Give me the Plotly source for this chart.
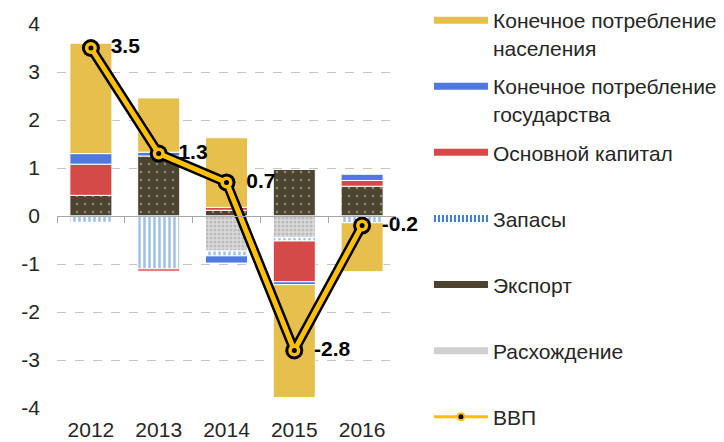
import plotly.graph_objects as go

years = ["2012", "2013", "2014", "2015", "2016"]
households = [2.30, 1.13, 1.45, -2.35, -1.02]
government = [0.22, 0.08, -0.15, -0.06, 0.13]
fixed_capital = [0.65, -0.05, 0.06, -0.85, 0.12]
inventories = [-0.13, -1.10, -0.10, -0.07, -0.14]
exports = [0.43, 1.25, 0.12, 0.97, 0.62]
discrepancy = [None, None, -0.73, -0.45, None]
gdp = [3.5, 1.3, 0.7, -2.8, -0.2]
gdp_labels = ["3.5", "1.3", "0.7", "-2.8", "-0.2"]
y_tick_vals = [4, 3, 2, 1, 0, -1, -2, -3, -4]
y_tick_text = ["4", "3", "2", "1", "0", "-1", "-2", "-3", "-4"]

names = {
    "households": "Конечное потребление<br>населения",
    "government": "Конечное потребление<br>государства",
    "capital": "Основной капитал<br>\u00a0",
    "inventories": "Запасы<br>\u00a0",
    "exports": "Экспорт<br>\u00a0",
    "discrepancy": "Расхождение<br>\u00a0",
    "gdp": "ВВП",
}

YELLOW = "#E6BF4C"
BLUE = "#5079E0"
RED = "#D44A48"
OLIVE = "#4A4431"
STRIPE = "#3D82D6"
GDP_LINE = "#FFC000"
FONT = "Liberation Sans, Arial, sans-serif"
TXT = "#262626"

fig = go.Figure()
border = dict(color="white", width=1)

fig.add_trace(go.Bar(x=years, y=exports, showlegend=False,
                     marker=dict(color=OLIVE, line=border,
                                 pattern=dict(shape=".", fgcolor="#d9d2b4", bgcolor=OLIVE,
                                              size=8, solidity=0.08))))
fig.add_trace(go.Bar(x=years, y=discrepancy, showlegend=False,
                     marker=dict(color="#d6d6d6", line=border,
                                 pattern=dict(shape=".", fgcolor="#9c9c9c", bgcolor="#dadada",
                                              size=4, solidity=0.45))))
fig.add_trace(go.Bar(x=years, y=inventories, showlegend=False,
                     marker=dict(color="white", line=border,
                                 pattern=dict(shape="|", fgcolor=STRIPE, bgcolor="white",
                                              size=5, solidity=0.5))))
fig.add_trace(go.Bar(x=years, y=fixed_capital, showlegend=False,
                     marker=dict(color=RED, line=border)))
fig.add_trace(go.Bar(x=years, y=government, showlegend=False,
                     marker=dict(color=BLUE, line=border)))
fig.add_trace(go.Bar(x=years, y=households, showlegend=False,
                     marker=dict(color=YELLOW, line=border)))

# GDP line (on overlay axis so it sits above bars)
fig.add_trace(go.Scatter(x=years, y=gdp, xaxis="x2", mode="lines+markers", showlegend=False,
                         line=dict(color="black", width=10),
                         marker=dict(color="black", size=18), hoverinfo="skip"))
fig.add_trace(go.Scatter(x=years, y=gdp, xaxis="x2", mode="lines+markers", showlegend=False,
                         line=dict(color=GDP_LINE, width=5),
                         marker=dict(color=GDP_LINE, size=12), hoverinfo="skip"))
fig.add_trace(go.Scatter(x=years, y=gdp, xaxis="x2", mode="markers", showlegend=False,
                         marker=dict(color="black", size=5), hoverinfo="skip"))
fig.add_trace(go.Scatter(x=years, y=gdp, xaxis="x2", mode="markers+text", showlegend=False,
                         marker=dict(color="black", size=30, opacity=0),
                         text=gdp_labels, textposition="middle right", cliponaxis=False,
                         textfont=dict(family=FONT, size=21, color="black", weight="bold"),
                         hoverinfo="skip"))

# legend entries
def leg(name, group, **line):
    fig.add_trace(go.Scatter(x=[None], y=[None], mode="lines", name=name,
                             legendgroup=group, line=line))

leg(names["households"], "a", color=YELLOW, width=7)
leg(names["government"], "b", color=BLUE, width=7)
leg(names["capital"], "c", color=RED, width=7)
leg(names["inventories"], "d", color=STRIPE, width=7, dash="2px,2px")
leg(names["exports"], "e", color=OLIVE, width=7)
leg(names["discrepancy"], "f", color="#cfcfcf", width=7)
fig.add_trace(go.Scatter(x=[None], y=[None], mode="lines+markers", name=names["gdp"],
                         legendgroup="g", line=dict(color=GDP_LINE, width=3),
                         marker=dict(color="black", size=7, line=dict(color=GDP_LINE, width=2))))

fig.update_layout(
    width=724, height=442,
    margin=dict(l=57, r=328, t=24, b=34),
    paper_bgcolor="white", plot_bgcolor="white",
    barmode="relative", bargap=0.38,
    font=dict(family=FONT, size=21, color=TXT),
    xaxis=dict(type="category", categoryorder="array", categoryarray=years,
               range=[-0.5, 4.5], showline=False, ticks="", showgrid=False,
               zeroline=False, tickfont=dict(size=21, color=TXT),
               automargin=False, ticklabelstandoff=7),
    xaxis2=dict(type="category", categoryorder="array", categoryarray=years,
                overlaying="x", anchor="free", position=0.5, range=[-0.5, 4.5],
                showline=True, linecolor="#a6a6a6", linewidth=1,
                ticks="outside", tickson="boundaries", ticklen=6, tickcolor="#a6a6a6",
                showticklabels=False, showgrid=False, zeroline=False, automargin=False),
    yaxis=dict(range=[-4, 4], tickvals=y_tick_vals, ticktext=y_tick_text,
               showgrid=True, gridcolor="#c4c4c4", griddash="dash", gridwidth=1,
               zeroline=False, showline=False, ticks="", ticklabelstandoff=16,
               tickfont=dict(size=21, color=TXT), automargin=False),
    legend=dict(xref="container", yref="container", x=0.5925, y=1.0,
                xanchor="left", yanchor="top", traceorder="grouped",
                tracegroupgap=8.5, valign="top", itemwidth=54, maxheight=1.0,
                font=dict(family=FONT, size=21, color=TXT),
                bgcolor="rgba(0,0,0,0)"),
    showlegend=True,
)

fig.write_html("out.html")
